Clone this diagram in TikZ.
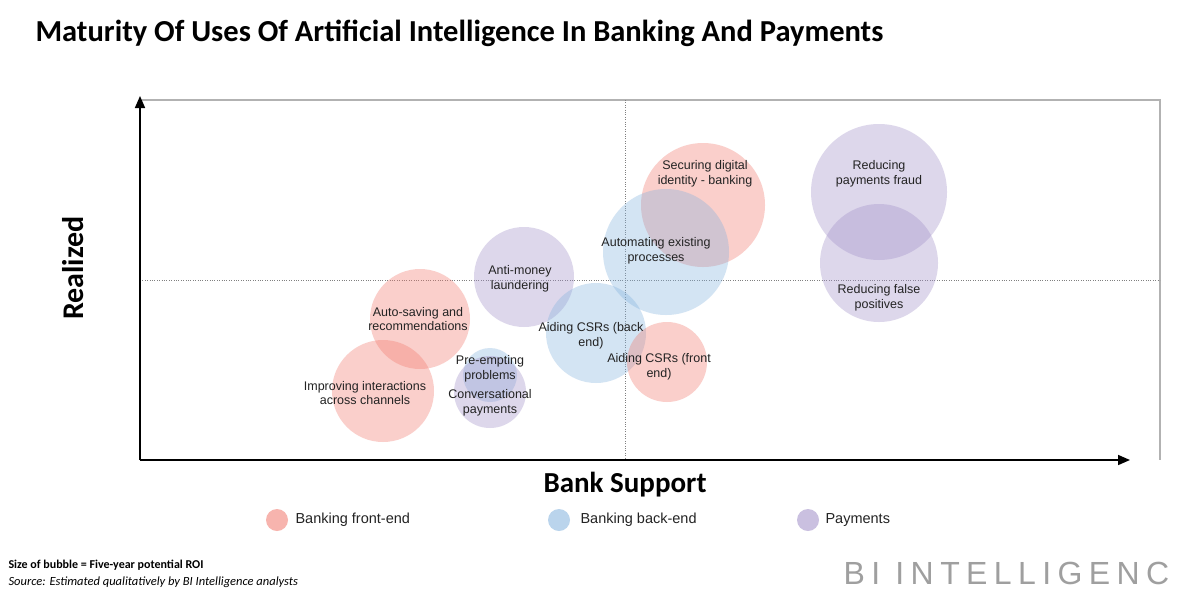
\documentclass[tikz,border=0pt]{standalone}
\usepackage{fontspec}
\setmainfont{Liberation Sans}
\newfontfamily\calfont{Carlito}
\newfontfamily\bifont[LetterSpace=20]{Liberation Sans}
\usetikzlibrary{arrows.meta}
\definecolor{pk}{RGB}{242,120,108}
\definecolor{bl}{RGB}{130,178,222}
\definecolor{pu}{RGB}{160,142,200}
\definecolor{txt}{RGB}{35,35,35}
\begin{document}
\begin{tikzpicture}[x=1pt,y=-1pt,
  bub/.style={circle,fill opacity=0.35,draw=none,inner sep=0pt},
  lab/.style={align=center,font=\fontsize{12.5}{14.5}\selectfont,text=txt},
  legt/.style={anchor=west,font=\fontsize{14.5}{16}\selectfont,text=txt},
  leg/.style={circle,fill opacity=0.55,inner sep=0pt,minimum size=22pt}]
\useasboundingbox (0,0) rectangle (1190,595);
\fill[white] (0,0) rectangle (1190,595);
\node[anchor=west,font=\calfont\bfseries\fontsize{30.5}{33}\selectfont] (title) at (32,33) {Maturity Of Uses Of Artificial Intelligence In Banking And Payments};
% frame
\draw[gray!60,line width=1.5pt] (140,100) -- (1160,100) -- (1160,460);
\draw[gray,dotted] (625,100) -- (625,460);
\draw[gray,dotted] (140,280) -- (1160,280);
\coordinate (o) at (140,460);
\coordinate (yt) at (140,96);
\coordinate (xt) at (1130,460);
\draw[line width=1.6pt,-{Triangle[length=12pt,width=10pt]}] (o) -- (yt);
\draw[line width=1.6pt,-{Triangle[length=12pt,width=10pt]}] (o) -- (xt);
\node[rotate=90,font=\calfont\bfseries\fontsize{30}{33}\selectfont] (ylab) at (73,268) {Realized};
\node[font=\calfont\bfseries\fontsize{29}{32}\selectfont] (xlab) at (625,485) {Bank Support};
% bubbles
\node[bub,fill=pu,minimum size=136pt] (b1) at (879,192) {};
\node[bub,fill=pu,minimum size=118pt] (b2) at (879,263) {};
\node[bub,fill=pk,minimum size=124pt] (b3) at (703,205) {};
\node[bub,fill=bl,minimum size=126pt] (b4) at (666,252) {};
\node[bub,fill=pu,minimum size=100pt] (b5) at (524,277) {};
\node[bub,fill=pk,minimum size=100pt] (b6) at (420,319) {};
\node[bub,fill=bl,minimum size=100pt] (b7) at (596,333) {};
\node[bub,fill=pk,minimum size=80pt] (b8) at (667,362) {};
\node[bub,fill=pk,minimum size=102pt] (b9) at (383,391) {};
\node[bub,fill=bl,minimum size=54pt] (b10) at (490,375) {};
\node[bub,fill=pu,minimum size=72pt] (b11) at (490,392) {};
% labels
\node[lab] (l1) at (879,174) {Reducing\\payments fraud};
\node[lab] (l2) at (879,298) {Reducing false\\positives};
\node[lab] (l3) at (705,174) {Securing digital\\identity - banking};
\node[lab] (l4) at (656,251) {Automating existing\\processes};
\node[lab] (l5) at (520,279) {Anti-money\\laundering};
\node[lab] (l6) at (418,319) {Auto-saving and\\recommendations};
\node[lab] (l7) at (591,336) {Aiding CSRs (back\\end)};
\node[lab] (l8) at (659,367) {Aiding CSRs (front\\end)};
\node[lab] (l9) at (365,393) {Improving interactions\\across channels};
\node[lab] (l10) at (490,369) {Pre-empting\\problems};
\node[lab] (l11) at (490,403) {Conversational\\payments};
% legend
\node[leg,fill=pk] (g1) at (277,520) {};
\node[legt] (t1) at (292,520) {Banking front-end};
\node[leg,fill=bl] (g2) at (559,520) {};
\node[legt] (t2) at (577,520) {Banking back-end};
\node[leg,fill=pu] (g3) at (808,520) {};
\node[legt] (t3) at (822,520) {Payments};
% footer
\node[anchor=west,font=\calfont\bfseries\fontsize{12}{14}\selectfont] (f1) at (5,565) {Size of bubble = Five-year potential ROI};
\node[anchor=west,font=\calfont\itshape\fontsize{12.5}{14}\selectfont] (f2) at (5,582) {Source: Estimated qualitatively by BI Intelligence analysts};
\node[anchor=west,font=\bifont\fontsize{32}{34}\selectfont,text=gray!75] (bi) at (840,573) {BI INTELLIGENC};
\end{tikzpicture}
\end{document}
